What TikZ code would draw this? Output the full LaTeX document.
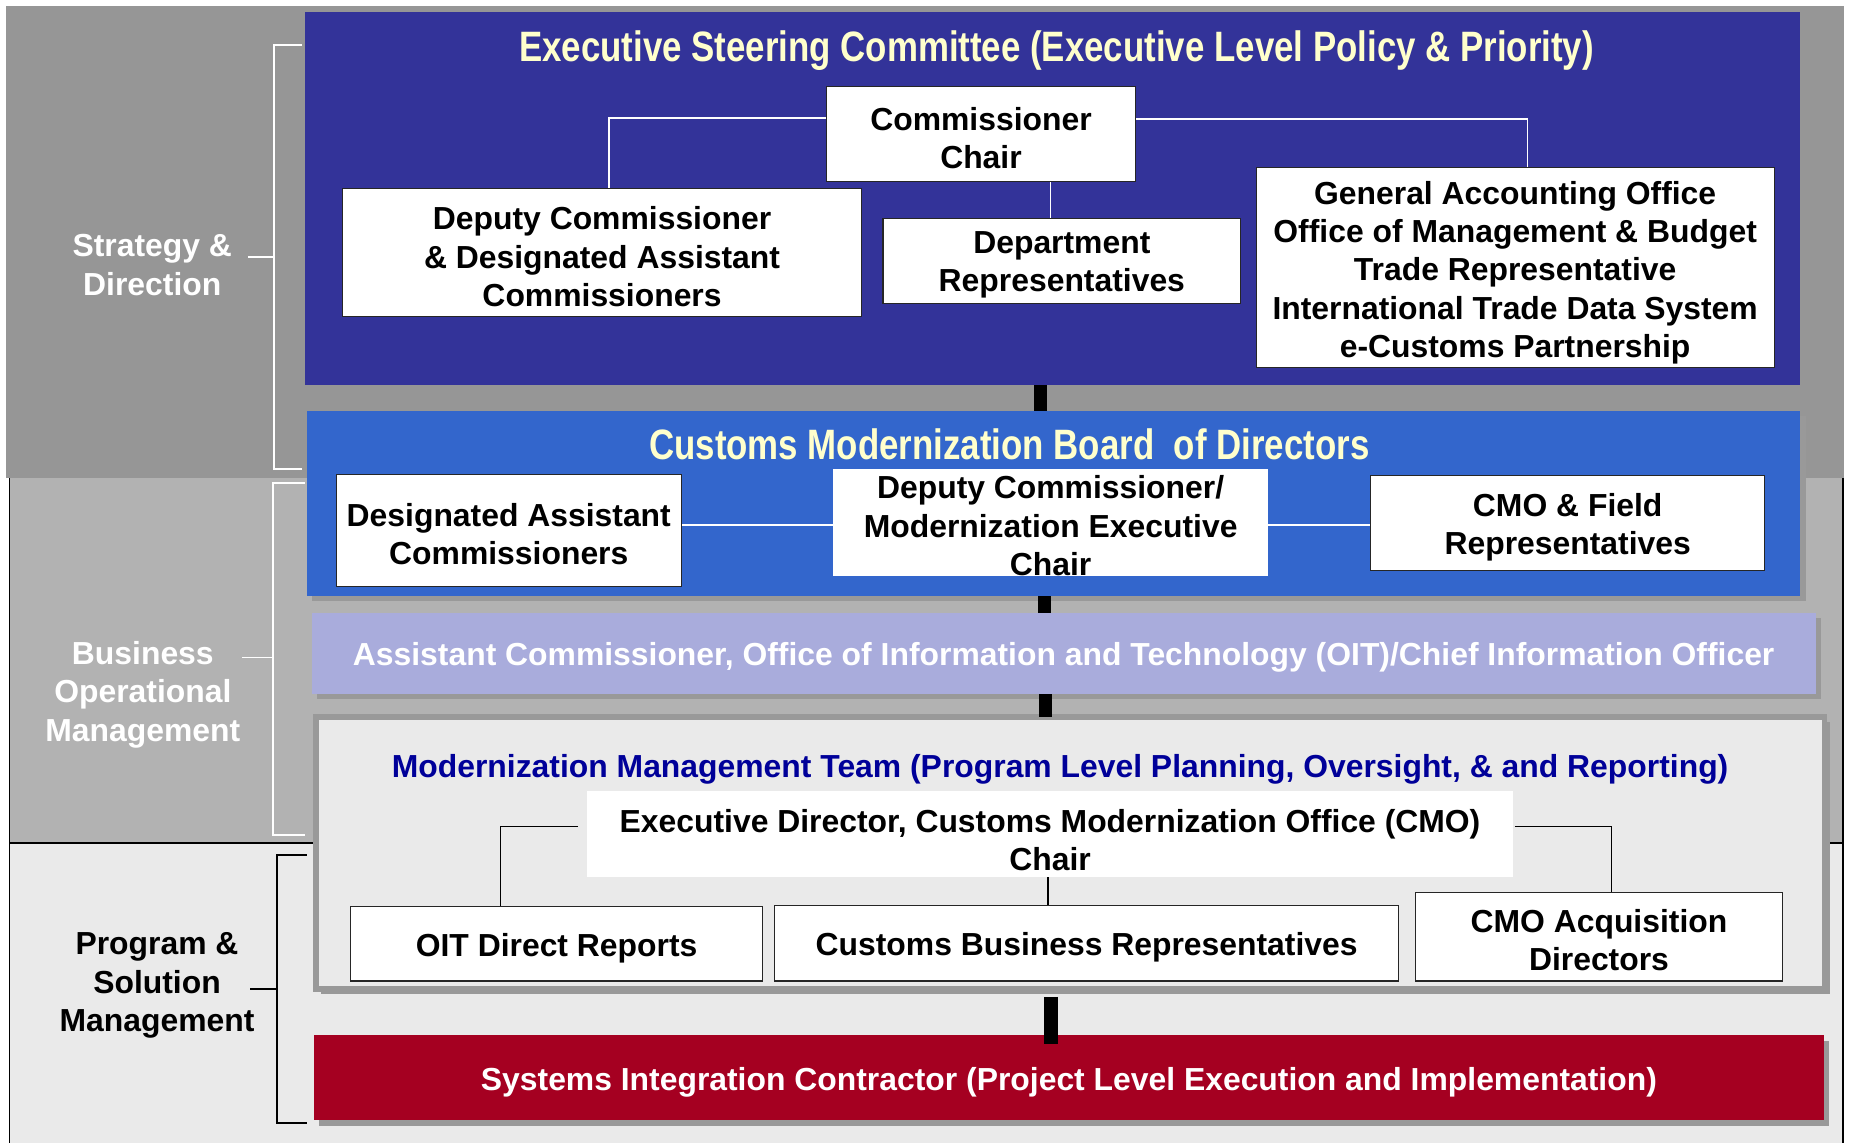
\documentclass[tikz,border=0pt]{standalone}
\usepackage{fontspec}
\setmainfont{Liberation Sans}
\newfontfamily\narrowfont[FakeStretch=0.82]{Liberation Sans}
\usetikzlibrary{calc,shadows}
\definecolor{bandA}{HTML}{969696}
\definecolor{bandB}{HTML}{B2B2B2}
\definecolor{bandC}{HTML}{EAEAEA}
\definecolor{escblue}{HTML}{333399}
\definecolor{cmbblue}{HTML}{3366CC}
\definecolor{oitlav}{HTML}{A9ACDC}
\definecolor{mmtblue}{HTML}{000099}
\definecolor{sicred}{HTML}{A50021}
\definecolor{titleyellow}{HTML}{FFFFCC}
\definecolor{shadowgray}{HTML}{999999}
\newcommand\bxfont{\fontsize{27}{32.5}\selectfont\bfseries}
\newcommand\ttlfont{\narrowfont\bfseries\fontsize{36}{42}\selectfont}
\begin{document}
\begin{tikzpicture}[x=1pt,y=-1pt,
  wbox/.style={draw=black!85, line width=0.9pt, fill=white, inner sep=0pt},
  pbox/.style={fill=white, inner sep=0pt},
  band/.style={inner sep=0pt, outer sep=0pt},
  shd/.style={drop shadow={shadow xshift=4.5pt, shadow yshift=-4.5pt, fill=shadowgray, opacity=1}},
  ttl/.style={font=\ttlfont, inner sep=0pt},
  txt/.style={font=\bxfont, align=center, inner sep=0pt, text=black},
  wline/.style={draw=white, line width=1.4pt},
  kline/.style={draw=black, line width=1.4pt},
  brk/.style={line width=1.6pt},
  bar/.style={draw=black, line width=11pt}]
\useasboundingbox (0,0) rectangle (1568,968);
% background bands
\fill[bandA] (5,5) rectangle (1562,405);
\fill[bandB] (8,405) rectangle (1561,714);
\fill[bandC] (8,714) rectangle (1561,968);
\draw[black, line width=1.5pt] (8,405) -- (8,968);
\draw[black, line width=1.5pt] (1561,405) -- (1561,968);
\draw[black, line width=1.5pt] (8,714) -- (1561,714);
% brackets and labels
\draw[brk, white] (256,38) -- (232,38) -- (232,397) -- (256,397);
\draw[brk, white] (210,218) -- (232,218);
\node[txt, text=white] (lsd) at (129,224.5) {Strategy \&\\Direction};
\draw[brk, white] (258,409) -- (231,409) -- (231,707) -- (258,707);
\draw[brk, white] (205,557) -- (231,557);
\node[txt, text=white] (lbo) at (121,588.5) {Business\\Operational\\Management};
\draw[brk, black] (260,724) -- (235,724) -- (235,951) -- (260,951);
\draw[brk, black] (212,838) -- (235,838);
\node[txt, text=black] (lps) at (133,835) {Program \&\\Solution\\Management};
% Executive Steering Committee
\node[band, fill=escblue, minimum width=1267, minimum height=316] (esc) at (891.5,168) {};
\node[ttl, text=titleyellow] (esct) at (895,43) {Executive Steering Committee (Executive Level Policy \& Priority)};
\node[wbox, minimum width=262, minimum height=81] (comm) at (831,113.5) {};
\node[txt] (commt) at ([yshift=-3.5pt]comm.center) {Commissioner\\Chair};
\node[wbox, minimum width=440, minimum height=108] (dep) at (510,214) {};
\node[txt] (dept) at ([yshift=-3.5pt]dep.center) {Deputy Commissioner\\\& Designated Assistant\\Commissioners};
\node[wbox, minimum width=303, minimum height=72] (dpr) at (899.5,221) {};
\node[txt] (dprt) at ([yshift=-3.5pt]dpr.center) {Department\\Representatives};
\node[wbox, minimum width=439, minimum height=169] (gao) at (1283.5,226.5) {};
\node[txt] (gaot) at ([yshift=-4.5pt]gao.center) {General Accounting Office\\Office of Management \& Budget\\Trade Representative\\International Trade Data System\\e-Customs Partnership};
\draw[wline] ([yshift=13.5pt]comm.west) -| ([xshift=6pt]dep.north);
\draw[wline] ([yshift=12.5pt]comm.east) -| ([xshift=10.5pt]gao.north);
\draw[wline] ([xshift=-9.5pt]dpr.north) -- ([xshift=-9.5pt]dpr.north |- comm.south);
% Customs Modernization Board of Directors
\node[band, shd, fill=cmbblue, minimum width=1265, minimum height=157] (cmb) at (892.5,426.5) {};
\node[ttl, text=titleyellow] (cmbt) at (855,376) {Customs Modernization Board~\ of Directors};
\node[wbox, minimum width=292, minimum height=95] (dac) at (431,449.5) {};
\node[txt] (dact) at ([yshift=-3pt]dac.center) {Designated Assistant\\Commissioners};
\node[pbox, minimum width=368, minimum height=91] (dcm) at (890,442.5) {};
\node[txt] (dcmt) at ([yshift=-3pt]dcm.center) {Deputy Commissioner/\\Modernization Executive\\Chair};
\node[wbox, minimum width=334, minimum height=80] (cmof) at (1328,443) {};
\node[txt] (cmoft) at ([yshift=-3.5pt]cmof.center) {CMO \& Field\\Representatives};
\draw[wline] ([yshift=-2.5pt]dcm.west) -- ([yshift=-2.5pt]dcm.west -| dac.east);
\draw[wline] ([yshift=-2.5pt]dcm.east) -- ([yshift=-2.5pt]dcm.east -| cmof.west);
% Assistant Commissioner OIT
\node[band, shd, fill=oitlav, minimum width=1274, minimum height=69] (oit) at (901,553.5) {};
\node[txt, text=white] (oitt) at ([yshift=-3.5pt]oit.center) {Assistant Commissioner, Office of Information and Technology (OIT)/Chief Information Officer};
% Modernization Management Team
\node[band, shd, fill=bandC, draw=shadowgray, line width=5pt, minimum width=1278, minimum height=230] (mmt) at (906.5,722.5) {};
\node[txt, text=mmtblue] (mmtt) at (898,652) {Modernization Management Team (Program Level Planning, Oversight, \& and Reporting)};
\node[pbox, minimum width=785, minimum height=73] (ed) at (889.5,706.5) {};
\node[txt] (edt) at ([yshift=-5pt]ed.center) {Executive Director, Customs Modernization Office (CMO)\\Chair};
\node[wbox, minimum width=349, minimum height=63] (oitdr) at (471.5,799.5) {};
\node[txt] (oitdrt) at ([yshift=-3.5pt]oitdr.center) {OIT Direct Reports};
\node[wbox, minimum width=529, minimum height=64] (cbr) at (920.5,799) {};
\node[txt] (cbrt) at ([yshift=-3.5pt]cbr.center) {Customs Business Representatives};
\node[wbox, minimum width=311, minimum height=75] (cmoa) at (1354.5,793.5) {};
\node[txt] (cmoat) at ([yshift=-3pt]cmoa.center) {CMO Acquisition\\Directors};
\draw[kline] ([yshift=6.5pt,xshift=-7pt]ed.west) -| ([xshift=-47.5pt]oitdr.north);
\draw[kline] ([yshift=6.5pt,xshift=1pt]ed.east) -| ([xshift=10.5pt]cmoa.north);
\draw[kline] ([xshift=-1.5pt]ed.south) -- ([xshift=-1.5pt]ed.south |- cbr.north);
% Systems Integration Contractor
\node[band, shd, fill=sicred, minimum width=1279, minimum height=72] (sic) at (905.5,913) {};
\node[txt, text=white] (sict) at ([yshift=-3.5pt]sic.center) {Systems Integration Contractor (Project Level Execution and Implementation)};
% thick connectors
\draw[bar] ([xshift=-10pt]esc.south) -- ([xshift=-10pt]esc.south |- cmb.north);
\draw[bar] ([xshift=-8pt]cmb.south) -- ([xshift=-8pt]cmb.south |- oit.north);
\draw[bar] ([xshift=-15pt]oit.south) -- ([xshift=-15pt]oit.south |- mmt.north);
\draw[bar, line width=12pt] ([xshift=-16.5pt,yshift=-7pt]mmt.south) -- ([xshift=-16.5pt,yshift=-7pt]mmt.south |- sic.north);
\end{tikzpicture}
\end{document}
